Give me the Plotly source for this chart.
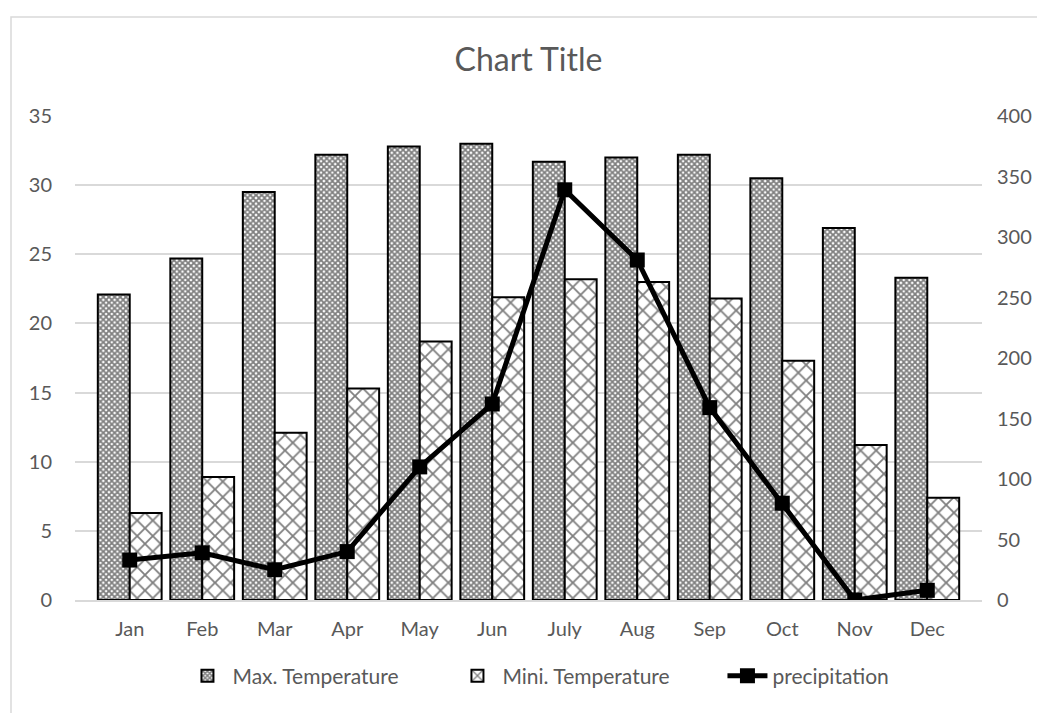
import plotly.graph_objects as go

months = ["Jan", "Feb", "Mar", "Apr", "May", "Jun", "July", "Aug", "Sep", "Oct", "Nov", "Dec"]
max_temp = [22.1, 24.7, 29.5, 32.2, 32.8, 33.0, 31.7, 32.0, 32.2, 30.5, 26.9, 23.3]
min_temp = [6.3, 8.9, 12.1, 15.3, 18.7, 21.9, 23.2, 23.0, 21.8, 17.3, 11.2, 7.4]
precip = [33, 39, 25, 40, 110, 162, 339, 281, 159, 80, 0, 8]

left_ticks = [0, 5, 10, 15, 20, 25, 30, 35]
right_ticks = [0, 50, 100, 150, 200, 250, 300, 350, 400]

FONT = "Lato, 'Open Sans', sans-serif"
GREY = "#595959"

W, H = 1037, 705
L, R, T, B = 67, 63, 108, 113
PW, PH = W - L - R, H - T - B

fig = go.Figure()
fig.add_trace(go.Bar(
    x=months, y=max_temp, name="Max. Temperature",
    marker=dict(color="white", line=dict(color="black", width=2),
                pattern=dict(shape="x", size=4, solidity=0.7, fgcolor="black", bgcolor="white")),
))
fig.add_trace(go.Bar(
    x=months, y=min_temp, name="Mini. Temperature",
    marker=dict(color="white", line=dict(color="black", width=2),
                pattern=dict(shape="x", size=11, solidity=0.3, fgcolor="black", bgcolor="white")),
))
fig.add_trace(go.Scatter(
    x=months, y=precip, name="precipitation", yaxis="y2", mode="lines+markers",
    line=dict(color="black", width=5),
    marker=dict(symbol="square", size=15, color="black"),
))

fig.update_layout(
    width=W, height=H,
    margin=dict(l=L, r=R, t=T, b=B, autoexpand=False),
    paper_bgcolor="white", plot_bgcolor="white",
    font=dict(family=FONT, color=GREY, size=20),
    title=dict(text="Chart Title", x=0.5, xanchor="center", xref="paper",
               y=1 - 52 / H, yanchor="middle",
               font=dict(size=32, color=GREY, family=FONT)),
    barmode="group", bargap=0.12, bargroupgap=0,
    xaxis=dict(showgrid=False, showline=True, linecolor="#d9d9d9", linewidth=1.5,
               ticks="", tickfont=dict(size=20, color=GREY), ticklabelstandoff=10,
               automargin=False),
    yaxis=dict(range=[0, 35], tickvals=left_ticks, showgrid=True, gridcolor="#d9d9d9",
               gridwidth=1.5, zeroline=False, showline=False, ticks="",
               tickfont=dict(size=20, color=GREY), ticklabelstandoff=22, automargin=False),
    yaxis2=dict(range=[0, 400], tickvals=right_ticks, overlaying="y", side="right",
                showgrid=False, zeroline=False, showline=False, ticks="",
                tickfont=dict(size=20, color=GREY), ticklabelstandoff=14, automargin=False),
    legend=dict(orientation="h", x=0.565, xanchor="center", y=-(676 - 8 - (H - B)) / PH,
                yanchor="middle", font=dict(size=21, color=GREY), traceorder="normal",
                entrywidth=215, itemwidth=40),
    shapes=[dict(type="rect", xref="paper", yref="paper",
                 x0=(3 - L) / PW, x1=1.2, y0=-0.5, y1=(H - B - 9) / PH,
                 line=dict(color="#d9d9d9", width=1.5), fillcolor="rgba(0,0,0,0)", layer="below")],
)

fig.write_html("out.html")
